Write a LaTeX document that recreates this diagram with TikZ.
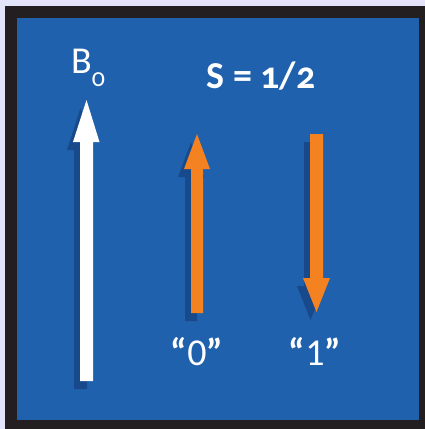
\documentclass[tikz,border=0pt]{standalone}
\usepackage{fontspec}
\setmainfont{Carlito}
\newfontfamily\oldnum[Numbers=OldStyle]{Carlito}
\definecolor{bgl}{HTML}{E3E3FA}
\definecolor{frame}{HTML}{231F20}
\definecolor{panel}{HTML}{1F61AD}
\definecolor{shade}{HTML}{18498A}
\definecolor{orng}{HTML}{F58220}
\tikzset{
  lbl/.style={text=white, font=\fontsize{38}{40}\selectfont, inner sep=0pt},
  shadowfill/.style={fill=shade},
}
\begin{document}
\begin{tikzpicture}[x=1pt,y=-1pt]
\useasboundingbox (0,0) rectangle (425,429);
\fill[bgl] (0,0) rectangle (425,429);
\fill[frame] (5,6) rectangle (425,429);
\fill[panel] (17,18) rectangle (419,420);
% white arrow (B0)
\begin{scope}[shift={(-6,8)}]
\fill[shadowfill] (80,381) -- (80,142) -- (73,142) -- (86.5,100) -- (99.5,142) -- (93,142) -- (93,381) -- cycle;
\end{scope}
\fill[white] (80,381) -- (80,142) -- (73,142) -- (86.5,100) -- (99.5,142) -- (93,142) -- (93,381) -- cycle;
% orange up arrow
\begin{scope}[shift={(-6,8)}]
\fill[shadowfill] (191,313) -- (191,169) -- (184,169) -- (197,134) -- (210,169) -- (203,169) -- (203,313) -- cycle;
\end{scope}
\fill[orng] (191,313) -- (191,169) -- (184,169) -- (197,134) -- (210,169) -- (203,169) -- (203,313) -- cycle;
% orange down arrow
\begin{scope}[shift={(-6,8)}]
\fill[shadowfill] (310,134) -- (310,278) -- (303,278) -- (316.5,312) -- (330,278) -- (323,278) -- (323,134) -- cycle;
\end{scope}
\fill[orng] (310,134) -- (310,278) -- (303,278) -- (316.5,312) -- (330,278) -- (323,278) -- (323,134) -- cycle;
% labels
\node[lbl, anchor=base west] (b0) at (71,73) {B\raisebox{-0.35em}{\fontsize{26}{28}\selectfont\oldnum 0}};
\node[lbl, anchor=base] (s) at (261,88) {\bfseries S = {\oldnum 1/2}};
\node[lbl, anchor=base] (zero) at (197,365) {{\bfseries “}0{\bfseries ”}};
\node[lbl, anchor=base] (one) at (315,365) {{\bfseries “}1{\bfseries ”}};
\end{tikzpicture}
\end{document}
